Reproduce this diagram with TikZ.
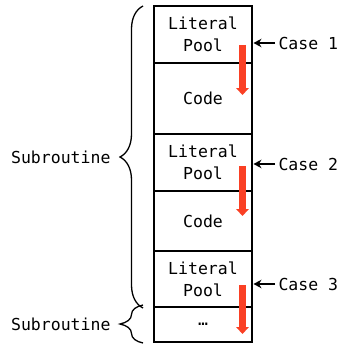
\documentclass[tikz,border=0pt]{standalone}
\usepackage{fontspec}
\setmonofont{DejaVu Sans Mono}
\usetikzlibrary{arrows.meta,decorations.pathreplacing}
\definecolor{scanred}{RGB}{250,64,36}
\begin{document}
\begin{tikzpicture}[x=1pt,y=-1pt,
  every node/.style={font=\ttfamily\fontsize{16.5}{22}\selectfont},
  cell/.style={draw,line width=1.5pt,minimum width=98pt,inner sep=0pt,outer sep=0pt,
    anchor=north,align=center},
  ptr/.style={-{Stealth[length=8pt,width=8.5pt]},line width=1.3pt,shorten >=1.5pt},
  scan/.style={scanred,line width=6.5pt,-{Triangle[width=12.5pt,length=7pt]}},
  span/.style={decorate,decoration={brace,amplitude=23pt},line width=1.3pt}]
\useasboundingbox (0,0) rectangle (340,345);

% memory layout, top to bottom
\node[cell,minimum height=57pt] (lp1) at (203,6) {Literal\\Pool};
\node[cell,minimum height=71pt] (code1) at (lp1.south) {Code};
\node[cell,minimum height=57pt] (lp2) at (code1.south) {Literal\\Pool};
\node[cell,minimum height=60pt] (code2) at (lp2.south) {Code};
\node[cell,minimum height=56pt] (lp3) at (code2.south) {Literal\\Pool};
\node[cell,minimum height=35pt] (more) at (lp3.south) {…};

% scan direction inside each pool
\draw[scan] (242.5,45) -- (242.5,95);
\draw[scan] (242.5,166) -- (242.5,216);
\draw[scan] (242.5,285) -- (242.5,334);

% cases
\node[anchor=west] (c1) at (275,43) {Case 1};
\node[anchor=west] (c2) at (275,164) {Case 2};
\node[anchor=west] (c3) at (275,284) {Case 3};
\draw[ptr] (c1.west) -- (c1.west -| lp1.east);
\draw[ptr] (c2.west) -- (c2.west -| lp2.east);
\draw[ptr] (c3.west) -- (c3.west -| lp3.east);

% subroutine extents
\draw[span] ([xshift=-11pt,yshift=-1pt]lp3.south west) -- ([xshift=-11pt]lp1.north west);
\draw[span] ([xshift=-11pt,yshift=-1pt]more.south west) -- ([xshift=-11pt,yshift=2pt]more.north west);
\node[anchor=east] (s1) at (114,157) {Subroutine};
\node[anchor=east] (s2) at (114,324.5) {Subroutine};
\end{tikzpicture}
\end{document}
